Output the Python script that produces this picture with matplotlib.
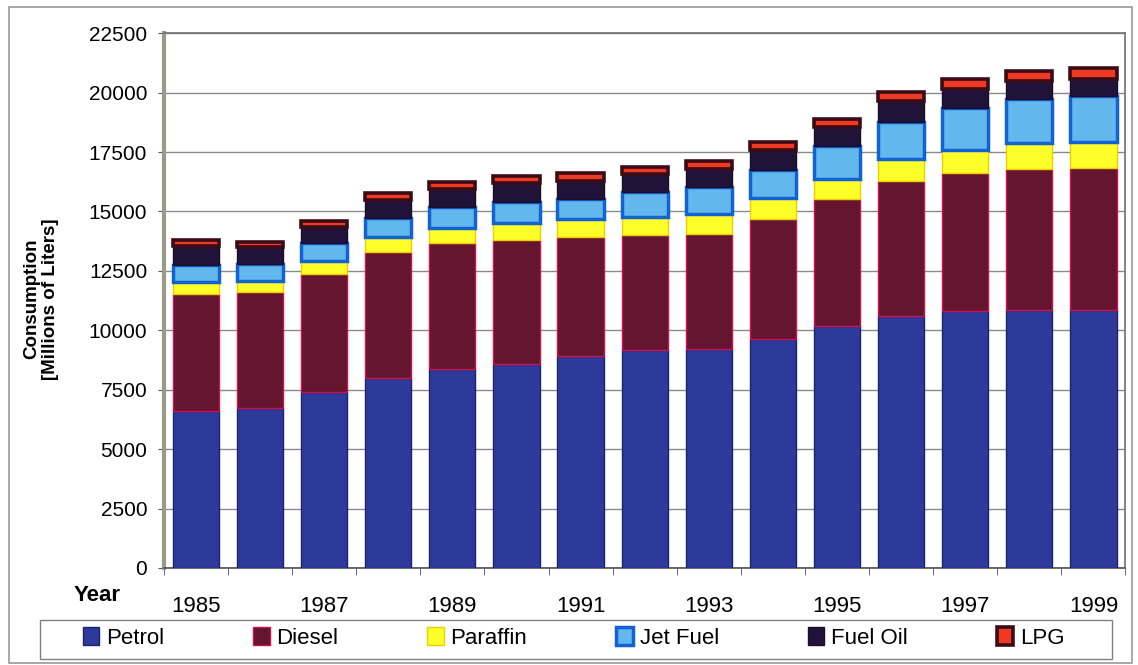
import numpy as np
import matplotlib.pyplot as plt
from matplotlib.patches import Rectangle

plt.rcParams['font.family'] = ['Liberation Sans', 'DejaVu Sans']

years = list(range(1985, 2000))
petrol = [6600, 6750, 7400, 7990, 8370, 8570, 8900, 9160, 9200, 9650, 10160, 10600, 10810, 10870, 10870]
diesel = [4930, 4850, 4975, 5290, 5290, 5235, 5045, 4870, 4855, 5040, 5365, 5665, 5795, 5920, 5960]
paraffin = [490, 465, 530, 660, 645, 700, 745, 755, 840, 880, 840, 940, 980, 1075, 1075]
jet_fuel = [745, 730, 755, 785, 865, 880, 840, 1020, 1135, 1175, 1400, 1580, 1765, 1865, 1960]
fuel_oil = [780, 690, 680, 750, 770, 805, 765, 755, 755, 845, 770, 850, 785, 740, 730]
lpg = [260, 250, 270, 290, 300, 310, 320, 330, 340, 350, 370, 390, 420, 440, 450]

series = [
    ('Petrol', petrol, '#2d3a9c', '#1c2470', 1.0),
    ('Diesel', diesel, '#641530', '#d0104a', 1.0),
    ('Paraffin', paraffin, '#ffff2a', '#e8d000', 1.0),
    ('Jet Fuel', jet_fuel, '#62b8ec', '#1262d4', 2.5),
    ('Fuel Oil', fuel_oil, '#21123a', '#1a0e2c', 1.0),
    ('LPG', lpg, '#ee3a22', '#3a0c18', 2.6),
]

fig = plt.figure(figsize=(11.38, 6.65), dpi=100)
ax = fig.add_axes([0.144, 0.146, 0.845, 0.804])

x = np.arange(len(years))
bottom = np.zeros(len(years))
handles = []
for name, vals, fc, ec, lw in series:
    b = ax.bar(x, vals, width=0.72, bottom=bottom, color=fc, edgecolor=ec,
               linewidth=lw, label=name, zorder=3)
    handles.append(b)
    bottom += np.array(vals)

ax.set_xlim(-0.5, len(years) - 0.5)
ax.set_ylim(0, 22500)
ax.set_yticks(np.arange(0, 22501, 2500))
ax.yaxis.grid(True, color='#8a8a8a', linewidth=1.0, zorder=0)
ax.tick_params(axis='y', labelsize=15, length=4, color='#555555', pad=8)

# categories labelled every second year, ticks sit between bars
ax.set_xticks(x[::2])
ax.set_xticklabels([str(y) for y in years[::2]], fontsize=16)
ax.set_xticks(np.arange(-0.5, len(years), 1), minor=True)
ax.tick_params(axis='x', which='major', length=0, pad=20)
ax.tick_params(axis='x', which='minor', length=5, color='#555555')

for side in ['top', 'right']:
    ax.spines[side].set_color('#707070')
    ax.spines[side].set_linewidth(1.2)
ax.spines['left'].set_color('#9a9a8a')
ax.spines['left'].set_linewidth(3)
ax.spines['bottom'].set_color('#505050')
ax.spines['bottom'].set_linewidth(1.2)

fig.text(0.036, 0.55, 'Consumption\n[Millions of Liters]', rotation=90,
         ha='center', va='center', fontsize=13.5, fontweight='bold', linespacing=1.1)
fig.text(0.085, 0.104, 'Year', ha='center', va='center', fontsize=16, fontweight='bold')

leg = fig.legend(handles=handles, loc='center', bbox_to_anchor=(0.504, 0.041),
                 ncol=6, fontsize=16, frameon=False,
                 handlelength=0.75, handleheight=0.9, handletextpad=0.3,
                 columnspacing=4.0)

# legend box and outer chart border
fig.patches.append(Rectangle((0.035, 0.009), 0.942, 0.059, transform=fig.transFigure,
                             fill=False, edgecolor='#808080', linewidth=1.0))
fig.patches.append(Rectangle((0.008, 0.003), 0.987, 0.987, transform=fig.transFigure,
                             fill=False, edgecolor='#9a9a9a', linewidth=1.2))

fig.savefig('out.png', dpi=100)
